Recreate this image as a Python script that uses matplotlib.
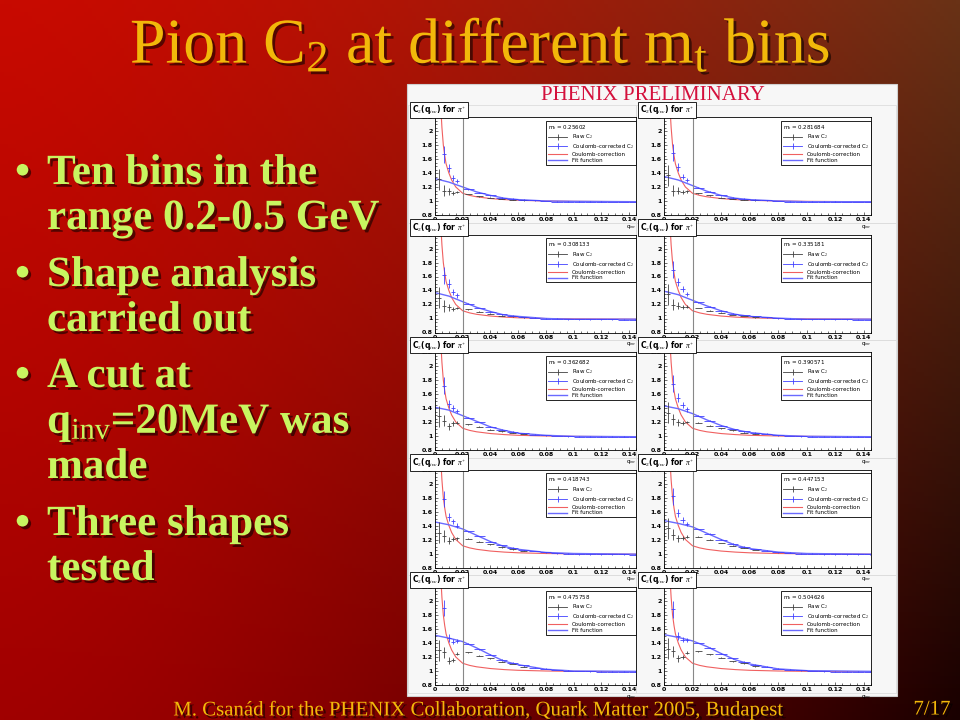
import numpy as np
import matplotlib.pyplot as plt
import matplotlib.patheffects as pe
from matplotlib.patches import Rectangle
from matplotlib.lines import Line2D

plt.rcParams['font.family'] = ['Liberation Serif', 'DejaVu Serif']
plt.rcParams['mathtext.fontset'] = 'custom'
plt.rcParams['mathtext.rm'] = 'Liberation Serif'
plt.rcParams['mathtext.it'] = 'Liberation Serif:italic'
plt.rcParams['mathtext.bf'] = 'Liberation Serif:bold'

# m_t of each bin (GeV)
mt_labels = ['0.25602', '0.281684', '0.308133', '0.335181', '0.362682',
             '0.390571', '0.418743', '0.447153', '0.475758', '0.504626']

# Coulomb correction curve
q_coul = [0.004, 0.005, 0.006, 0.007, 0.008, 0.010, 0.012, 0.015, 0.020,
          0.025, 0.030, 0.040, 0.050, 0.060, 0.080, 0.100, 0.145]
coul = [2.40, 2.05, 1.80, 1.65, 1.53, 1.40, 1.30, 1.20, 1.11,
        1.08, 1.06, 1.035, 1.02, 1.01, 1.00, 0.995, 0.99]

# fit function per m_t bin
q_fit = [0.0, 0.01, 0.02, 0.03, 0.04, 0.05, 0.06, 0.08, 0.10, 0.145]
fit = [
    [1.32, 1.27, 1.20, 1.13, 1.08, 1.04, 1.02, 1.00, 0.995, 0.99],
    [1.35, 1.30, 1.22, 1.14, 1.08, 1.04, 1.02, 1.00, 0.99, 0.99],
    [1.37, 1.32, 1.24, 1.16, 1.10, 1.05, 1.03, 1.00, 0.99, 0.99],
    [1.39, 1.34, 1.26, 1.18, 1.11, 1.06, 1.03, 1.005, 0.99, 0.99],
    [1.41, 1.37, 1.29, 1.21, 1.13, 1.08, 1.04, 1.01, 0.995, 0.99],
    [1.43, 1.39, 1.32, 1.23, 1.15, 1.09, 1.05, 1.01, 0.995, 0.99],
    [1.45, 1.41, 1.35, 1.26, 1.17, 1.10, 1.06, 1.015, 1.00, 0.99],
    [1.47, 1.43, 1.38, 1.29, 1.20, 1.12, 1.07, 1.02, 1.00, 0.99],
    [1.51, 1.47, 1.42, 1.33, 1.23, 1.14, 1.09, 1.025, 1.00, 0.995],
    [1.52, 1.48, 1.43, 1.35, 1.25, 1.16, 1.10, 1.03, 1.005, 0.995],
]

# points below the 20 MeV cut (first corrected bin is off scale)
q_low = [0.003, 0.0065, 0.010, 0.013, 0.016]
corr_low = [
    [2.60, 1.67, 1.47, 1.33, 1.29],
    [2.60, 1.69, 1.49, 1.35, 1.30],
    [2.60, 1.62, 1.50, 1.38, 1.33],
    [2.60, 1.70, 1.52, 1.42, 1.35],
    [2.60, 1.72, 1.46, 1.40, 1.36],
    [2.60, 1.75, 1.55, 1.44, 1.38],
    [2.60, 1.78, 1.52, 1.46, 1.40],
    [2.60, 1.82, 1.58, 1.48, 1.42],
    [2.60, 1.90, 1.47, 1.42, 1.43],
    [2.60, 1.88, 1.50, 1.45, 1.44],
]
corr_low_err = [0.30, 0.12, 0.06, 0.04, 0.03]
raw_low = [
    [1.31, 1.15, 1.14, 1.12, 1.13],
    [1.37, 1.15, 1.15, 1.13, 1.14],
    [1.30, 1.18, 1.16, 1.14, 1.15],
    [1.35, 1.20, 1.18, 1.16, 1.17],
    [1.28, 1.22, 1.14, 1.18, 1.19],
    [1.33, 1.24, 1.20, 1.19, 1.20],
    [1.30, 1.25, 1.18, 1.21, 1.22],
    [1.36, 1.27, 1.22, 1.22, 1.24],
    [1.30, 1.27, 1.15, 1.16, 1.25],
    [1.32, 1.28, 1.18, 1.20, 1.26],
]
raw_low_err = [0.15, 0.08, 0.05, 0.03, 0.02]

# points above the cut
q_high = [0.024, 0.032, 0.040, 0.048, 0.056, 0.064, 0.072, 0.080,
          0.088, 0.096, 0.104, 0.112, 0.120, 0.128, 0.136, 0.144]
corr_high = [
    [1.17, 1.12, 1.08, 1.05, 1.03, 1.02, 1.01, 1.00, 0.99, 0.99, 0.99, 0.99, 0.99, 0.985, 0.985, 0.985],
    [1.19, 1.13, 1.08, 1.05, 1.03, 1.02, 1.01, 1.00, 0.99, 0.99, 0.99, 0.99, 0.99, 0.985, 0.985, 0.985],
    [1.21, 1.15, 1.10, 1.06, 1.04, 1.02, 1.01, 1.00, 0.995, 0.99, 0.99, 0.99, 0.99, 0.99, 0.985, 0.985],
    [1.23, 1.17, 1.11, 1.07, 1.05, 1.03, 1.02, 1.005, 1.00, 0.99, 0.99, 0.99, 0.99, 0.99, 0.985, 0.985],
    [1.26, 1.20, 1.13, 1.09, 1.06, 1.04, 1.02, 1.01, 1.00, 0.995, 0.99, 0.99, 0.99, 0.99, 0.99, 0.985],
    [1.29, 1.22, 1.15, 1.10, 1.07, 1.045, 1.03, 1.01, 1.00, 0.995, 0.99, 0.99, 0.99, 0.99, 0.99, 0.985],
    [1.32, 1.25, 1.17, 1.12, 1.08, 1.05, 1.035, 1.02, 1.005, 1.00, 0.99, 0.99, 0.99, 0.99, 0.99, 0.985],
    [1.35, 1.28, 1.20, 1.14, 1.10, 1.065, 1.04, 1.02, 1.01, 1.00, 0.995, 0.99, 0.99, 0.99, 0.99, 0.99],
    [1.39, 1.31, 1.23, 1.16, 1.12, 1.08, 1.05, 1.03, 1.015, 1.005, 1.00, 0.995, 0.99, 0.99, 0.99, 0.99],
    [1.40, 1.33, 1.25, 1.18, 1.13, 1.09, 1.06, 1.035, 1.02, 1.01, 1.00, 0.995, 0.99, 0.99, 0.99, 0.99],
]
raw_high = [
    [1.10, 1.07, 1.05, 1.03, 1.02, 1.01],
    [1.11, 1.08, 1.05, 1.03, 1.02, 1.01],
    [1.13, 1.10, 1.07, 1.04, 1.03, 1.015],
    [1.15, 1.11, 1.08, 1.05, 1.035, 1.02],
    [1.17, 1.13, 1.09, 1.07, 1.045, 1.03],
    [1.19, 1.15, 1.11, 1.08, 1.05, 1.035],
    [1.21, 1.17, 1.13, 1.09, 1.06, 1.04],
    [1.24, 1.20, 1.15, 1.11, 1.08, 1.05],
    [1.27, 1.22, 1.18, 1.13, 1.10, 1.06],
    [1.28, 1.24, 1.19, 1.14, 1.11, 1.07],
]

x_ticks = [0, 0.02, 0.04, 0.06, 0.08, 0.1, 0.12, 0.14]
x_ticklabels = ['0', '0.02', '0.04', '0.06', '0.08', '0.1', '0.12', '0.14']
y_ticks = [0.8, 1.0, 1.2, 1.4, 1.6, 1.8, 2.0, 2.2]
y_ticklabels = ['0.8', '1', '1.2', '1.4', '1.6', '1.8', '2', '2.2']

bullets = [('Ten bins in the', True), ('range 0.2-0.5 GeV', False),
           ('Shape analysis', True), ('carried out', False),
           ('A cut at', True), ('q$_{\\mathrm{inv}}$=20MeV was', False),
           ('made', False), ('Three shapes', True), ('tested', False)]
bullet_y = [184, 229, 286, 331, 387, 433, 478, 535, 580]

W, H = 960, 720


def box(x0, y0, x1, y1):
    return [x0 / W, 1 - y1 / H, (x1 - x0) / W, (y1 - y0) / H]


fig = plt.figure(figsize=(9.6, 7.2), dpi=100)

# slide background
bg = fig.add_axes([0, 0, 1, 1])
u = np.linspace(0, 1, 240)[None, :, None] ** 1.5
v = np.linspace(0, 1, 180)[:, None, None]
tl = np.array([200, 10, 0]) / 255
tr = np.array([105, 50, 22]) / 255
bl = np.array([160, 0, 0]) / 255
br = np.array([25, 0, 0]) / 255
img = (1 - u) * (1 - v) * tl + u * (1 - v) * tr + (1 - u) * v * bl + u * v * br
bg.imshow(img, extent=[0, W, H, 0], aspect='auto')
bg.set_xlim(0, W)
bg.set_ylim(H, 0)
bg.axis('off')

shadow = [pe.SimplePatchShadow(offset=(2, -2), shadow_rgbFace='black', alpha=0.55), pe.Normal()]

bg.text(480, 63, 'Pion C$_2$ at different m$_\\mathrm{t}$ bins', ha='center', va='baseline',
        fontsize=46, color='#f2b80a', path_effects=shadow)

for (txt, dot), yb in zip(bullets, bullet_y):
    if dot:
        bg.text(15, yb, '\u2022', fontsize=31, weight='bold', color='#c8f560',
                va='baseline', path_effects=shadow)
    bg.text(47, yb, txt, fontsize=31, weight='bold', color='#c8f560',
            va='baseline', path_effects=shadow)

bg.text(480, 710.5, 'M. Csanád for the PHENIX Collaboration, Quark Matter 2005, Budapest',
        ha='center', va='center', fontsize=15, color='#f2b80a', path_effects=shadow)
bg.text(932, 710, '7/17', ha='center', va='center', fontsize=15, color='#f2b80a',
        path_effects=shadow)

# white figure panel
bg.add_patch(Rectangle((407, 84), 490, 612, facecolor='#f7f7f7', edgecolor='#d0d0d0', lw=0.8))
bg.text(653, 95, 'PHENIX PRELIMINARY', ha='center', va='center', fontsize=15, color='#d4103c')

for k in range(10):
    row, col = divmod(k, 2)
    cx0, cx1 = (408, 636) if col == 0 else (636, 896)
    ax_x0, ax_x1 = (435, 636) if col == 0 else (664, 871)
    top = 117 + row * 117.5
    bg.add_patch(Rectangle((cx0, top - 12), cx1 - cx0, 117.5, facecolor='none',
                           edgecolor='#dddddd', lw=0.6))

    ax = fig.add_axes(box(ax_x0, top, ax_x1, top + 98))
    ax.set_facecolor('white')
    ax.set_xlim(0, 0.145)
    ax.set_ylim(0.8, 2.2)

    l_coul, = ax.plot(q_coul, coul, color='#f06060', lw=0.8)
    l_fit, = ax.plot(q_fit, fit[k], color='#6a6aff', lw=1.0)
    ax.errorbar(q_low, raw_low[k], yerr=raw_low_err, xerr=0.0015,
                fmt='none', ecolor='#404040', elinewidth=0.6)
    ax.errorbar(q_high[:6], raw_high[k], yerr=0.006, xerr=0.0025,
                fmt='none', ecolor='#404040', elinewidth=0.6)
    ax.errorbar(q_low, corr_low[k], yerr=corr_low_err, xerr=0.0015,
                fmt='none', ecolor='#4040ff', elinewidth=0.6)
    ax.errorbar(q_high, corr_high[k], yerr=0.006, xerr=0.004,
                fmt='none', ecolor='#4040ff', elinewidth=0.6)
    ax.axvline(0.02, color='#888888', lw=0.8)

    ax.set_xticks(x_ticks)
    ax.set_xticklabels(x_ticklabels)
    ax.set_yticks(y_ticks)
    ax.set_yticklabels(y_ticklabels)
    ax.minorticks_on()
    ax.tick_params(which='both', direction='in', labelsize=4.5, pad=1.5,
                   top=False, right=False, width=0.4)
    ax.tick_params(which='major', length=2.5)
    ax.tick_params(which='minor', length=1.2)
    for lab in ax.get_xticklabels() + ax.get_yticklabels():
        lab.set_family('DejaVu Sans')
        lab.set_weight('bold')
    for s in ax.spines.values():
        s.set_linewidth(0.6)
    ax.text(1.0, -0.08, 'q$_{inv}$', transform=ax.transAxes, ha='right', va='top',
            fontsize=4, family='DejaVu Sans')

    h_raw = Line2D([], [], color='#404040', lw=0.6, marker='|', markersize=4, markeredgewidth=0.6)
    h_corr = Line2D([], [], color='#4040ff', lw=0.6, marker='|', markersize=4, markeredgewidth=0.6)
    leg = ax.legend([h_raw, h_corr, l_coul, l_fit],
                    ['Raw C$_2$', 'Coulomb-corrected C$_2$', 'Coulomb-correction', 'Fit function'],
                    title='m$_t$ = ' + mt_labels[k], loc='upper right', bbox_to_anchor=(1.0, 0.96),
                    prop={'family': 'DejaVu Sans', 'size': 4},
                    title_fontproperties={'family': 'DejaVu Sans', 'size': 4},
                    alignment='left', fancybox=False, edgecolor='black', framealpha=1,
                    handlelength=3.5, borderpad=0.35, labelspacing=0.15, handletextpad=0.8,
                    borderaxespad=0.0, handleheight=0.6)
    leg.get_frame().set_linewidth(0.6)

    # panel title box sits on top of the axes, hiding the 2.2 label as in ROOT
    fig.text((cx0 + 4) / W, 1 - (top - 7) / H, 'C$_2$(q$_{inv}$) for $\\pi^{+}$', fontsize=5.5,
             family='DejaVu Sans', weight='bold', va='center', ha='left',
             bbox=dict(boxstyle='square,pad=0.25', facecolor='white', edgecolor='black', lw=0.6))

fig.savefig('out.png', dpi=100)
